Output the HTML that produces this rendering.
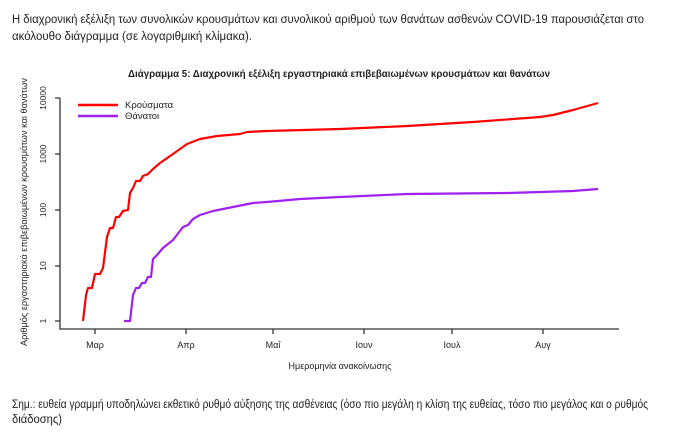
<!DOCTYPE html>
<html><head><meta charset="utf-8"><style>
html,body{margin:0;padding:0;background:#fff;}
svg{display:block;}
text{font-family:"Liberation Sans Narrow","Liberation Sans",sans-serif;fill:#222;}
</style></head><body>
<svg width="679" height="440" viewBox="0 0 679 440" xmlns="http://www.w3.org/2000/svg">
<text x="12" y="23" font-size="11.5" textLength="632" lengthAdjust="spacingAndGlyphs">Η διαχρονική εξέλιξη των συνολικών κρουσμάτων και συνολικού αριθμού των θανάτων ασθενών COVID-19 παρουσιάζεται στο</text>
<text x="12" y="40" font-size="11.5" textLength="240" lengthAdjust="spacingAndGlyphs">ακόλουθο διάγραμμα (σε λογαριθμική κλίμακα).</text>
<text x="128" y="77" font-size="10" font-weight="bold" fill="#111" textLength="422" lengthAdjust="spacingAndGlyphs">Διάγραμμα 5: Διαχρονική εξέλιξη εργαστηριακά επιβεβαιωμένων κρουσμάτων και θανάτων</text>
<g stroke="#333" stroke-width="1.3" fill="none">
<path d="M60,98V329H619"/>
<path d="M55,98H60M55,154H60M55,210H60M55,266H60M55,321H60"/>
<path d="M95,329v5M186,329v5M273,329v5M364,329v5M452,329v5M543,329v5"/>
</g>
<g font-size="8.5" text-anchor="middle">
<text transform="translate(46,98) rotate(-90)">10000</text>
<text transform="translate(46,154) rotate(-90)">1000</text>
<text transform="translate(46,210) rotate(-90)">100</text>
<text transform="translate(46,266) rotate(-90)">10</text>
<text transform="translate(46,321) rotate(-90)">1</text>
</g>
<text transform="translate(27,212) rotate(-90)" font-size="9.5" text-anchor="middle" textLength="268" lengthAdjust="spacingAndGlyphs">Αριθμός εργαστηριακά επιβεβαιωμένων κρουσμάτων και θανάτων</text>
<g font-size="9" text-anchor="middle">
<text x="95" y="348">Μαρ</text><text x="186" y="348">Απρ</text><text x="273" y="348">Μαΐ</text>
<text x="364" y="348">Ιουν</text><text x="452" y="348">Ιουλ</text><text x="543" y="348">Αυγ</text>
</g>
<text x="340" y="369" font-size="9" text-anchor="middle">Ημερομηνία ανακοίνωσης</text>
<path d="M78,105H118" stroke="#f00" stroke-width="2.5"/>
<path d="M78,116H118" stroke="#a020f0" stroke-width="2.5"/>
<text x="125" y="108" font-size="9.5">Κρούσματα</text>
<text x="125" y="119" font-size="9.5">Θάνατοι</text>
<polyline fill="none" stroke="#f00" stroke-width="2.2" stroke-linejoin="round" points="83,321 86,295 88,288 92,288 95,274 100,274 103,268 107,237 110,228 113,228 116,217 119,217 123,211 128,210 130,193 133,188 136,181 140,181 143,176 148,174 153,169 160,163 173,154 187,144 200,139 217,136 240,134 247,132 267,131 340,129 407,126 473,122 540,117 553,115 573,110 598,103"/>
<polyline fill="none" stroke="#a020f0" stroke-width="2.2" stroke-linejoin="round" points="124,321 130,321 133,295 136,288 139,288 142,283 145,283 148,277 151,277 153,259 157,255 163,248 173,240 183,227 188,225 193,219 200,215 213,211 233,207 253,203 267,202 300,199 340,197 407,194 507,193 573,191 598,189"/>
<text x="12" y="408" font-size="11.5" textLength="636" lengthAdjust="spacingAndGlyphs">Σημ.: ευθεία γραμμή υποδηλώνει εκθετικό ρυθμό αύξησης της ασθένειας (όσο πιο μεγάλη η κλίση της ευθείας, τόσο πιο μεγάλος και ο ρυθμός</text>
<text x="12" y="423" font-size="11.5" textLength="50" lengthAdjust="spacingAndGlyphs">διάδοσης)</text>
</svg>
</body></html>
